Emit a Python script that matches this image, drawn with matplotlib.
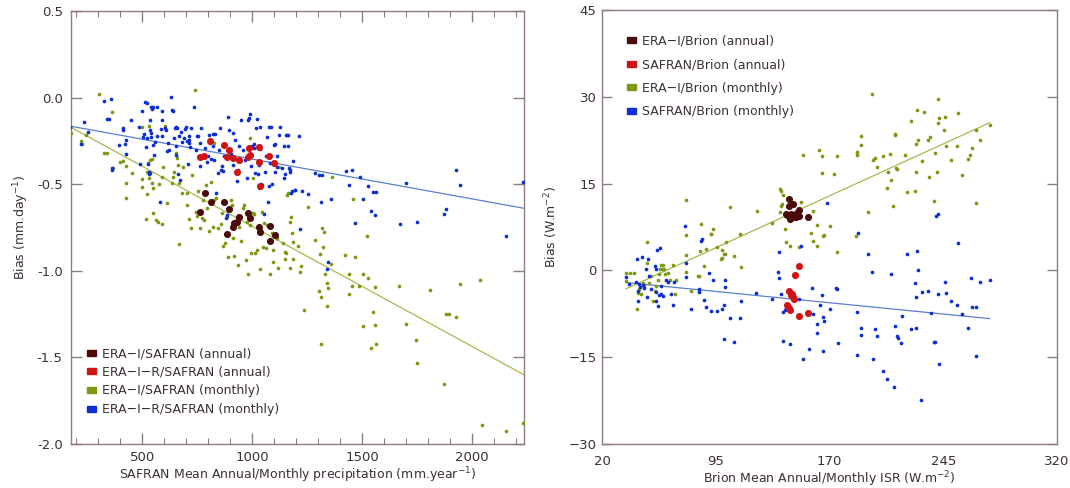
import matplotlib
matplotlib.use("Agg")
import matplotlib.pyplot as plt
from matplotlib.patches import Patch
from matplotlib.ticker import MultipleLocator
import numpy as np

# ---- precipitation bias vs SAFRAN precipitation ----
era_i_r_monthly = [
    (174, -0.167), (224, -0.268), (237, -0.140), (252, -0.199), (326, -0.019), (342, -0.121),
    (350, -0.121), (357, -0.011), (365, -0.406), (365, -0.420), (393, -0.276), (414, -0.174),
    (414, -0.190), (420, -0.266), (425, -0.243), (425, -0.326), (448, -0.128), (487, -0.167),
    (492, -0.383), (498, -0.077), (503, -0.228), (508, -0.211), (511, -0.023), (519, -0.287),
    (524, -0.029), (524, -0.234), (527, -0.383), (530, -0.431), (530, -0.444), (534, -0.435),
    (536, -0.186), (539, -0.228), (536, -0.128), (542, -0.205), (542, -0.052), (545, -0.067),
    (550, -0.057), (550, -0.276), (555, -0.330), (558, -0.259), (566, -0.224), (567, -0.052),
    (583, -0.602), (585, -0.182), (589, -0.224), (589, -0.080), (592, -0.128), (602, -0.176),
    (608, -0.190), (613, -0.310), (618, -0.262), (621, -0.301), (630, 0.004), (636, -0.071),
    (639, -0.077), (644, -0.234), (649, -0.178), (652, -0.330), (652, -0.172), (655, -0.282),
    (658, -0.176), (663, -0.441), (668, -0.224), (671, -0.473), (676, -0.199), (683, -0.259),
    (691, -0.234), (693, -0.180), (699, -0.169), (704, -0.253), (708, -0.383), (712, -0.220),
    (712, -0.262), (715, -0.243), (719, -0.285), (724, -0.176), (738, -0.052), (743, -0.301),
    (751, -0.224), (754, -0.220), (759, -0.339), (762, -0.262), (765, -0.397), (766, -0.176),
    (777, -0.339), (785, -0.291), (793, -0.372), (801, -0.339), (806, -0.215), (809, -0.262),
    (812, -0.354), (821, -0.282), (824, -0.211), (827, -0.358), (832, -0.209), (837, -0.550),
    (845, -0.435), (849, -0.301), (856, -0.176), (860, -0.416), (865, -0.397), (868, -0.425),
    (871, -0.339), (879, -0.693), (884, -0.680), (890, -0.115), (896, -0.186), (903, -0.326),
    (911, -0.387), (915, -0.205), (923, -0.243), (929, -0.483), (934, -0.416), (942, -0.282),
    (950, -0.128), (958, -0.301), (969, -0.358), (976, -0.464), (981, -0.128), (986, -0.119),
    (989, -0.096), (994, -0.339), (997, -0.397), (1001, -0.282), (1008, -0.268), (1009, -0.291),
    (1012, -0.435), (1016, -0.178), (1020, -0.125), (1025, -0.444), (1031, -0.387), (1034, -0.295),
    (1036, -0.169), (1039, -0.498), (1044, -0.502), (1053, -0.674), (1059, -0.431), (1063, -0.339),
    (1067, -0.230), (1072, -0.600), (1075, -0.511), (1077, -0.169), (1080, -0.377), (1085, -0.172),
    (1091, -0.498), (1100, -0.272), (1103, -0.431), (1106, -0.266), (1111, -0.402), (1114, -0.339),
    (1122, -0.215), (1127, -0.167), (1135, -0.406), (1146, -0.282), (1147, -0.467), (1150, -0.439),
    (1155, -0.215), (1158, -0.215), (1161, -0.282), (1164, -0.218), (1168, -0.406), (1172, -0.420),
    (1174, -0.429), (1177, -0.550), (1182, -0.540), (1185, -0.368), (1193, -0.536), (1197, -0.531),
    (1213, -0.224), (1218, -0.759), (1226, -0.539), (1256, -0.557), (1286, -0.433), (1306, -0.445),
    (1316, -0.445), (1312, -0.605), (1357, -0.587), (1426, -0.424), (1439, -0.505), (1456, -0.418),
    (1488, -0.460), (1504, -0.584), (1527, -0.510), (1548, -0.547), (1565, -0.545), (1538, -0.655),
    (1559, -0.676), (1469, -0.726), (1671, -0.730), (1700, -0.495), (1751, -0.716), (1880, -0.643),
    (1874, -0.674), (1925, -0.418), (1945, -0.507), (2156, -0.801), (2230, -0.485), (1347, -0.951),
    (1341, -0.992),
]

era_i_monthly = [
    (179, -0.207), (224, -0.253), (229, -0.266), (245, -0.216), (305, 0.021), (362, -0.081),
    (327, -0.322), (342, -0.322), (367, -0.409), (400, -0.370), (415, -0.366), (427, -0.395),
    (426, -0.495), (427, -0.578), (453, -0.438), (500, -0.472), (501, -0.515), (518, -0.701),
    (524, -0.559), (527, -0.380), (536, -0.360), (544, -0.357), (521, -0.428), (532, -0.466),
    (544, -0.491), (551, -0.524), (551, -0.665), (561, -0.707), (574, -0.717), (589, -0.730),
    (579, -0.499), (589, -0.457), (597, -0.399), (604, -0.164), (612, -0.611), (635, -0.495),
    (642, -0.461), (645, -0.428), (655, -0.322), (658, -0.351), (661, -0.389), (668, -0.491),
    (668, -0.846), (680, -0.553), (688, -0.399), (703, -0.620), (706, -0.553), (711, -0.703),
    (721, -0.755), (727, -0.447), (741, 0.046), (745, -0.659), (751, -0.684), (756, -0.540),
    (761, -0.755), (771, -0.697), (782, -0.707), (776, -0.592), (791, -0.505), (797, -0.640),
    (806, -0.769), (812, -0.489), (820, -0.745), (827, -0.264), (827, -0.592), (836, -0.582),
    (847, -0.755), (858, -0.730), (862, -0.668), (867, -0.857), (877, -0.838), (885, -0.688),
    (892, -0.919), (904, -0.592), (908, -0.620), (912, -0.813), (918, -0.915), (930, -0.688),
    (938, -0.967), (942, -0.745), (948, -0.826), (957, -0.640), (963, -0.620), (973, -0.938),
    (976, -0.717), (979, -1.019), (991, -0.235), (991, -0.736), (994, -0.896), (1003, -0.466),
    (1006, -0.665), (1009, -0.674), (1014, -0.900), (1021, -0.880), (1029, -0.784), (1033, -0.524),
    (1036, -0.505), (1036, -0.992), (1045, -0.659), (1048, -0.861), (1054, -0.726), (1064, -0.867),
    (1067, -0.736), (1079, -1.019), (1089, -0.780), (1094, -0.880), (1097, -0.948), (1112, -0.813),
    (1117, -0.986), (1124, -0.399), (1142, -0.842), (1150, -0.890), (1154, -0.900), (1150, -0.934),
    (1157, -0.563), (1165, -0.553), (1170, -0.986), (1173, -0.717), (1177, -0.688), (1180, -0.784),
    (1185, -0.832), (1188, -0.934), (1210, -0.857), (500, -0.170), (530, -0.163),
    (1362, -0.456), (1460, -0.587), (1256, -0.632), (1316, -0.753), (1327, -0.776), (1286, -0.820),
    (1524, -0.797), (1323, -0.861), (1309, -0.903), (1424, -0.907), (1469, -0.922), (1359, -0.959),
    (1224, -0.972), (1218, -1.009), (1332, -1.019), (1439, -1.017), (1506, -1.017), (1527, -1.040),
    (1338, -1.071), (1347, -1.099), (1456, -1.090), (1486, -1.088), (1559, -1.094), (1669, -1.086),
    (1810, -1.113), (1945, -1.076), (2035, -1.055), (1304, -1.119), (1313, -1.153), (1441, -1.132),
    (1341, -1.201), (1238, -1.226), (1550, -1.236), (1504, -1.321), (1559, -1.313), (1700, -1.307),
    (1880, -1.252), (1894, -1.250), (1925, -1.265), (1747, -1.402), (1312, -1.425), (1538, -1.446),
    (1565, -1.425), (1751, -1.535), (1874, -1.656), (2044, -1.891), (2154, -1.927), (2230, -1.879),
]

era_i_r_annual = [
    (809, -0.251), (874, -0.274), (895, -0.303), (986, -0.289), (1029, -0.287), (761, -0.341),
    (782, -0.335), (885, -0.341), (912, -0.347), (941, -0.361), (980, -0.341), (991, -0.332),
    (1033, -0.370), (1077, -0.337), (1100, -0.380), (930, -0.428), (1035, -0.509),
]

era_i_annual = [
    (786, -0.553), (812, -0.601), (874, -0.601), (897, -0.643), (761, -0.663), (941, -0.692),
    (979, -0.665), (991, -0.697), (918, -0.726), (930, -0.717), (912, -0.749), (885, -0.790),
    (1033, -0.745), (1079, -0.740), (1104, -0.794), (1036, -0.774), (1079, -0.826),
]

# linear fits (slope, intercept) of the monthly series
fit_precip_era_i = (-0.000694, -0.049)
fit_precip_era_i_r = (-0.000230, -0.125)

# ---- ISR bias vs Brion ISR ----
era_brion_monthly = [
    (35.7, -1.8), (35.7, -0.4), (38.6, -0.4), (41.2, -0.4), (42.8, -6.6), (43.5, -3.9), (44.6, -3.2),
    (45.7, -4.1), (46.8, -2.1), (47.9, -2.7), (49.7, 4.9), (49.7, 1.3), (51.3, -2.1), (52.4, -1.0),
    (53.5, -5.3), (54.7, -3.6), (55.8, -2.7), (56.9, -1.6), (57.3, -0.7), (58.0, 0.3), (58.7, 0.9),
    (59.6, 0.2), (60.2, 0.9), (60.9, 0.3), (61.8, -0.7), (63.6, -0.4), (64.7, -1.6), (67.0, 1.0),
    (68.1, -4.1), (68.5, -1.6), (75.2, 12.1), (75.5, 6.2), (75.2, 2.6), (75.5, -0.3), (78.6, -3.6),
    (83.3, -1.0), (84.2, -0.9), (84.8, 3.3), (85.5, 8.1), (87.1, 0.7), (88.6, 3.7), (91.6, 6.3),
    (92.2, 6.3), (93.1, 7.1), (96.0, 4.1), (98.3, 1.9), (98.9, 2.2), (99.4, 3.6), (100.5, 2.9),
    (101.2, 2.9), (101.6, 4.9), (104.5, 10.9), (107.2, 2.5), (111.7, 0.5), (111.2, 6.3), (122.2, 10.2),
    (131.8, 8.2), (137.4, 14.1), (137.8, 13.7), (138.5, 11.5), (137.8, 11.2), (137.4, 10.1),
    (139.2, 13.1), (140.7, 7.1), (141.4, 4.9), (144.1, 4.2), (149.7, 4.1), (151.5, 11.9), (152.4, 19.9),
    (157.5, 6.5), (159.3, 10.2), (159.3, 5.0), (161.5, 7.8), (162.0, 4.2), (163.3, 20.8), (165.3, 16.9),
    (165.3, 19.7), (166.0, 6.0), (166.5, 6.2), (170.3, 7.7), (173.2, 16.7), (175.0, 3.2), (175.0, 19.7),
    (187.7, 5.9), (188.1, 20.0), (188.4, 20.5), (191.1, 23.3), (191.1, 21.6), (195.5, 10.1),
    (197.8, 30.5), (198.9, 19.1), (200.0, 19.5), (201.6, 17.9), (205.6, 19.7), (207.8, 14.3),
    (208.5, 17.0), (210.1, 20.1), (210.7, 15.7), (211.8, 11.1), (213.0, 23.4), (213.4, 23.6),
    (213.9, 17.7), (214.5, 17.6), (219.5, 19.9), (220.8, 13.5), (223.5, 25.8), (226.2, 13.8),
    (226.8, 17.0), (227.5, 27.8), (227.3, 21.8), (228.6, 22.6), (231.3, 18.9), (232.4, 27.3),
    (235.1, 22.6), (235.8, 16.2), (236.2, 23.0), (238.7, 12.0), (239.8, 20.3), (240.7, 17.0),
    (241.4, 29.6), (241.8, 25.5), (242.5, 26.4), (245.4, 24.2), (246.3, 26.5), (247.0, 21.5),
    (249.9, 19.0), (254.3, 21.5), (254.8, 27.2), (257.7, 16.4), (261.5, 19.3), (262.6, 20.0),
    (263.7, 21.2), (266.4, 24.2), (266.6, 11.7), (269.3, 22.6), (275.6, 25.1),
]

safran_brion_monthly = [
    (35.7, -1.2), (37.9, -2.3), (42.4, -2.0), (43.0, 2.0), (43.5, -5.3), (43.5, -3.6), (44.1, -2.4),
    (45.3, -2.8), (46.4, 2.3), (46.8, -2.6), (47.9, -3.0), (49.1, 0.3), (49.7, -4.6), (50.6, 1.9),
    (51.3, -1.0), (52.4, -3.3), (54.7, 0.7), (55.3, 0.3), (55.8, -5.3), (55.8, -3.7), (56.0, 3.6),
    (56.9, -6.2), (57.3, -4.3), (58.2, 3.8), (58.7, -2.7), (59.1, -4.1), (60.2, -4.5), (62.5, -1.7),
    (63.6, -2.0), (65.4, -4.1), (67.0, -6.0), (67.6, -2.0), (74.8, 7.7), (75.2, 1.3), (75.2, -1.2),
    (78.8, -6.7), (83.7, -3.8), (84.2, -3.3), (85.1, 5.0), (86.0, 5.4), (87.5, -5.1), (88.6, -6.3),
    (90.4, -0.5), (92.0, -7.0), (93.1, -1.6), (96.0, -7.0), (99.4, -6.6), (100.5, -5.9), (101.2, -2.8),
    (100.7, -11.9), (101.2, -1.6), (104.3, -8.3), (107.2, -12.3), (111.2, -8.3), (111.7, -5.3),
    (121.7, -3.9), (131.8, -4.9), (136.3, -0.3), (136.9, 3.1), (136.9, -1.4), (137.8, -4.1),
    (139.2, -7.2), (139.6, -12.2), (140.7, -6.8), (141.4, -6.7), (144.1, -12.8), (149.7, -5.0),
    (151.5, 4.3), (152.4, -15.3), (156.8, -13.6), (158.6, -3.1), (159.3, -7.6), (161.5, -9.3),
    (162.0, -10.8), (163.8, -6.0), (165.3, -4.3), (165.8, -13.9), (166.0, -8.0), (166.5, -8.7),
    (168.7, 11.7), (170.3, -6.6), (174.3, -3.0), (175.0, -3.2), (175.4, -12.6), (188.1, -7.2),
    (188.4, -14.7), (188.8, 6.5), (191.1, -9.9), (191.1, -11.1), (195.5, 2.9), (197.8, -0.3),
    (198.9, -15.3), (200.0, -10.2), (201.6, -11.3), (205.6, -17.4), (207.8, -18.7), (210.5, -0.7),
    (212.3, -20.1), (213.0, -9.6), (214.5, -11.3), (215.2, -11.6), (217.4, -12.6), (217.9, -7.8),
    (220.8, 2.8), (223.5, -10.2), (226.2, -2.1), (226.8, -4.6), (227.3, -9.9), (227.5, 3.3),
    (228.6, 0.1), (230.2, -22.4), (231.3, -3.7), (235.1, -3.6), (236.9, -7.3), (238.7, -12.4),
    (239.8, -12.3), (240.2, 9.4), (241.4, 9.7), (241.8, -4.1), (242.5, -16.2), (246.5, -2.0),
    (247.0, -3.9), (250.3, -5.3), (254.1, -5.9), (254.8, 4.7), (257.7, -7.6), (261.5, -9.9),
    (263.3, -1.3), (263.7, -6.3), (266.4, -6.4), (266.6, -14.8), (269.3, -2.0), (275.6, -1.7),
]

era_brion_annual = [
    (143.4, 12.3), (145.9, 11.4), (143.4, 11.1), (149.7, 10.5), (141.4, 9.8), (144.5, 9.7),
    (148.1, 9.3), (149.7, 9.4), (143.7, 8.9), (145.9, 9.2), (156.0, 9.2), (141.9, 9.5), (148.6, 10.0),
]

safran_brion_annual = [
    (149.7, 0.75), (147.5, -0.86), (143.4, -3.6), (144.5, -4.3), (145.9, -4.6), (146.3, -5.0),
    (141.9, -6.0), (143.7, -6.85), (149.7, -7.9), (156.0, -7.4), (143.0, -6.45), (145.2, -4.0),
]

fit_isr_era = (0.1197, -7.47)
fit_isr_safran = (-0.0260, -1.17)

# colours
c_dark = "#4d0a0a"
c_red = "#cf1414"
c_green = "#7b9a12"
c_blue = "#0c2fd2"
c_line_green = "#a9b84e"
c_line_blue = "#5b7fcf"
c_text = "#3d3030"
c_frame = "#8e7d7b"

plt.rcParams["font.family"] = "DejaVu Sans"
plt.rcParams["font.size"] = 9
plt.rcParams["text.color"] = c_text
plt.rcParams["axes.labelcolor"] = c_text
plt.rcParams["xtick.color"] = c_frame
plt.rcParams["ytick.color"] = c_frame
plt.rcParams["xtick.labelcolor"] = c_text
plt.rcParams["ytick.labelcolor"] = c_text

fig = plt.figure(figsize=(10.7, 4.88), dpi=100)
ax1 = fig.add_axes([0.0664, 0.0902, 0.4234, 0.8873])
ax2 = fig.add_axes([0.5626, 0.0902, 0.4252, 0.8893])

small = 7
big = 26


def scatter(ax, pts, color, size, z):
    a = np.array(pts)
    ax.scatter(a[:, 0], a[:, 1], s=size, color=color, linewidths=0, zorder=z)


def fit_line(ax, fit, x0, x1, color):
    xs = np.array([x0, x1])
    ax.plot(xs, fit[0] * xs + fit[1], color=color, lw=0.9, zorder=2)


def frame(ax):
    for sp in ax.spines.values():
        sp.set_color(c_frame)
        sp.set_linewidth(1.0)


# left panel
scatter(ax1, era_i_monthly, c_green, small, 3)
scatter(ax1, era_i_r_monthly, c_blue, small, 3)
fit_line(ax1, fit_precip_era_i_r, 174, 2236, c_line_blue)
fit_line(ax1, fit_precip_era_i, 174, 2236, c_line_green)
scatter(ax1, era_i_r_annual, c_red, big, 4)
scatter(ax1, era_i_annual, c_dark, big, 4)

ax1.set_xlim(177, 2236)
ax1.set_ylim(-2.0, 0.5)
ax1.xaxis.set_major_locator(MultipleLocator(500))
ax1.xaxis.set_minor_locator(MultipleLocator(100))
ax1.yaxis.set_major_locator(MultipleLocator(0.5))
ax1.yaxis.set_major_formatter(plt.FormatStrFormatter("%.1f"))
ax1.tick_params(which="both", direction="in", top=True, right=True, labelsize=9.5)
ax1.tick_params(axis="y", pad=6)
ax1.tick_params(axis="x", pad=5)
ax1.tick_params(which="major", length=8, width=1.0)
ax1.tick_params(which="minor", length=4, width=0.8)
ax1.set_xlabel("SAFRAN Mean Annual/Monthly precipitation (mm.year$^{-1}$)", labelpad=1)
ax1.set_ylabel("Bias (mm.day$^{-1}$)", labelpad=4)
frame(ax1)

handles1 = [Patch(color=c_dark), Patch(color=c_red), Patch(color=c_green), Patch(color=c_blue)]
labels1 = ["ERA\u2212I/SAFRAN (annual)", "ERA\u2212I\u2212R/SAFRAN (annual)",
           "ERA\u2212I/SAFRAN (monthly)", "ERA\u2212I\u2212R/SAFRAN (monthly)"]
ax1.legend(handles1, labels1, loc="upper left", bbox_to_anchor=(0.025, 0.235), frameon=False,
           handlelength=0.7, handleheight=0.35, handletextpad=0.5, labelspacing=0.45,
           borderaxespad=0, fontsize=9)

# right panel
scatter(ax2, era_brion_monthly, c_green, small, 3)
scatter(ax2, safran_brion_monthly, c_blue, small, 3)
fit_line(ax2, fit_isr_era, 35.7, 275.6, c_line_green)
fit_line(ax2, fit_isr_safran, 35.7, 275.6, c_line_blue)
scatter(ax2, era_brion_annual, c_dark, big, 4)
scatter(ax2, safran_brion_annual, c_red, big, 4)

ax2.set_xlim(20, 320)
ax2.set_ylim(-30, 45)
ax2.set_xticks([20, 95, 170, 245, 320])
ax2.set_yticks([-30, -15, 0, 15, 30, 45])
ax2.tick_params(axis="y", direction="in", left=True, right=True, length=7, width=1.0, pad=4, labelsize=9.5)
ax2.tick_params(axis="x", direction="in", length=0, pad=8, labelsize=9.5)
ax2.set_xlabel("Brion Mean Annual/Monthly ISR (W.m$^{-2}$)", labelpad=1)
ax2.set_ylabel("Bias (W.m$^{-2}$)", labelpad=6)
frame(ax2)

handles2 = [Patch(color=c_dark), Patch(color=c_red), Patch(color=c_green), Patch(color=c_blue)]
labels2 = ["ERA\u2212I/Brion (annual)", "SAFRAN/Brion (annual)",
           "ERA\u2212I/Brion (monthly)", "SAFRAN/Brion (monthly)"]
ax2.legend(handles2, labels2, loc="upper left", bbox_to_anchor=(0.045, 0.955), frameon=False,
           handlelength=0.7, handleheight=0.35, handletextpad=0.5, labelspacing=0.85,
           borderaxespad=0, fontsize=9)

fig.savefig("out.png", dpi=100)
